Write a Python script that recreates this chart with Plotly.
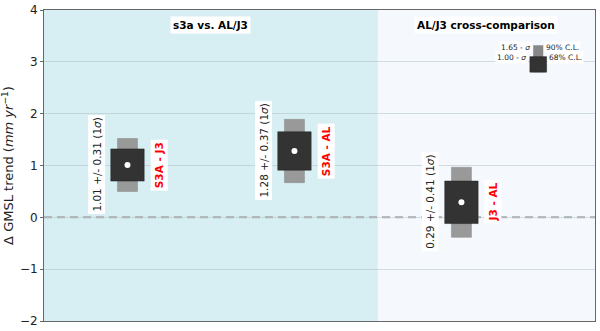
import plotly.graph_objects as go

# ---- data ----
positions = [1, 2, 3]
trend = [1.01, 1.28, 0.29]
sigma = [0.31, 0.37, 0.41]
pair_labels = ["S3A - J3", "S3A - AL", "J3 - AL"]
panel_titles = ["s3a vs. AL/J3", "AL/J3 cross-comparison"]
k90 = 1.65
k68 = 1.00
y_ticks = [-2, -1, 0, 1, 2, 3, 4]
key_x = [3.46]
key_base = [2.80]
key_68 = [0.30]
key_90 = [0.52]

DARK = "#333333"
GREY = "#999999"
FONT = "DejaVu Sans"

fig = go.Figure()

# 90% boxes
fig.add_trace(go.Bar(
    x=positions, y=[2 * k90 * s for s in sigma],
    base=[t - k90 * s for t, s in zip(trend, sigma)],
    width=0.12, marker=dict(color=GREY, line=dict(color="#8a8a8a", width=0.5)),
    hoverinfo="skip", showlegend=False))
# 68% boxes
fig.add_trace(go.Bar(
    x=positions, y=[2 * k68 * s for s in sigma],
    base=[t - k68 * s for t, s in zip(trend, sigma)],
    width=0.20, marker=dict(color=DARK, line=dict(color="#222222", width=0.5)),
    hoverinfo="skip", showlegend=False))
# centre dots
fig.add_trace(go.Scatter(
    x=positions, y=trend, mode="markers",
    marker=dict(color="white", size=6), hoverinfo="skip", showlegend=False))

# key
fig.add_trace(go.Bar(x=key_x, y=key_90, base=key_base, width=0.06,
                     marker=dict(color="#888888", line=dict(width=0)),
                     hoverinfo="skip", showlegend=False))
fig.add_trace(go.Bar(x=key_x, y=key_68, base=key_base, width=0.10,
                     marker=dict(color=DARK, line=dict(color="#222222", width=0.5)),
                     hoverinfo="skip", showlegend=False))

# background panels
fig.add_shape(type="rect", xref="x", yref="paper", x0=0.5, x1=2.5, y0=0, y1=1,
              fillcolor="#d7eef2", line_width=0, layer="below")
fig.add_shape(type="rect", xref="x", yref="paper", x0=2.5, x1=3.8, y0=0, y1=1,
              fillcolor="#f5f9fe", line_width=0, layer="below")
# zero line (behind the boxes)
fig.add_shape(type="line", xref="paper", yref="y", x0=0, x1=1, y0=0, y1=0,
              layer="below",
              line=dict(color="#a6a6a6", width=2, dash="8px,5px"))

# value annotations
for p, t, s, lab in zip(positions, trend, sigma, pair_labels):
    fig.add_annotation(x=p - 0.185, y=t, xref="x", yref="y",
                       text=f"{t:.2f} +/- {s:.2f} (1<i>σ</i>)", textangle=-90,
                       showarrow=False, bgcolor="white", borderpad=2,
                       font=dict(family=FONT, size=10.5, color="#222222"))
    fig.add_annotation(x=p + 0.19, y=t, xref="x", yref="y",
                       text=f"<b>{lab}</b>", textangle=-90,
                       showarrow=False, bgcolor="white", borderpad=2,
                       font=dict(family=FONT, size=10.5, color="red"))

# panel titles
fig.add_annotation(x=1.5, y=3.72, xref="x", yref="y", text=f"<b>{panel_titles[0]}</b>",
                   showarrow=False, bgcolor="white", borderpad=2,
                   font=dict(family=FONT, size=10.5, color="black"))
fig.add_annotation(x=3.15, y=3.72, xref="x", yref="y", text=f"<b>{panel_titles[1]}</b>",
                   showarrow=False, bgcolor="white", borderpad=2,
                   font=dict(family=FONT, size=10.5, color="black"))

# key labels
kf = dict(family=FONT, size=7.5, color="#222222")
fig.add_annotation(x=3.42, y=3.28, xref="x", yref="y", text="1.65 - <i>σ</i>",
                   xanchor="right", showarrow=False, bgcolor="white", font=kf)
fig.add_annotation(x=3.495, y=3.28, xref="x", yref="y", text="90% C.L.",
                   xanchor="left", showarrow=False, bgcolor="white", font=kf)
fig.add_annotation(x=3.40, y=3.08, xref="x", yref="y", text="1.00 - <i>σ</i>",
                   xanchor="right", showarrow=False, bgcolor="white", font=kf)
fig.add_annotation(x=3.515, y=3.08, xref="x", yref="y", text="68% C.L.",
                   xanchor="left", showarrow=False, bgcolor="white", font=kf)

fig.update_layout(
    width=600, height=331,
    margin=dict(l=44, r=5, t=10, b=10, autoexpand=False),
    paper_bgcolor="white", plot_bgcolor="white",
    barmode="overlay",
    font=dict(family=FONT, size=12, color="#222222"),
    xaxis=dict(range=[0.5, 3.8], showticklabels=False, ticks="", showgrid=False,
               automargin=False,
               zeroline=False, showline=True, linecolor="#666666", linewidth=1, mirror=True),
    yaxis=dict(range=[-2, 4], tickvals=y_ticks, ticks="outside", ticklen=3,
               automargin=False,
               tickcolor="#666666", showgrid=True, gridcolor="rgba(180,200,205,0.6)",
               zeroline=False, showline=True, linecolor="#666666", linewidth=1, mirror=True,
               tickfont=dict(family=FONT, size=12),
               title=dict(text="Δ GMSL trend (<i>mm yr</i><sup>−1</sup>)", standoff=4,
                          font=dict(family=FONT, size=13))),
)

fig.write_html("out.html", config={"displayModeBar": False},
               post_script="document.body.style.margin='0';document.body.style.overflow='hidden';")
